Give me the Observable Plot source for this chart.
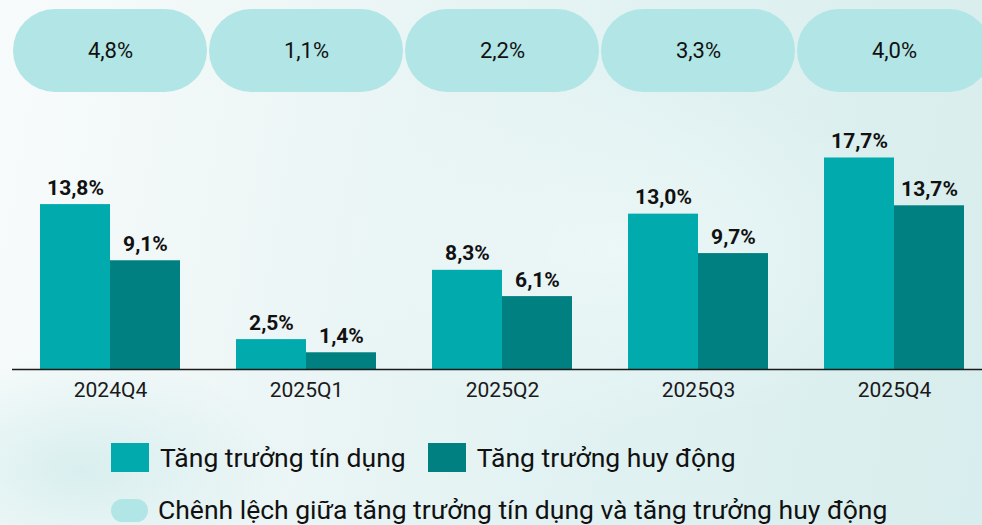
<!DOCTYPE html>
<html>
<head>
<meta charset="utf-8">
<script src="https://cdn.jsdelivr.net/npm/d3@7"></script>
<script src="https://cdn.jsdelivr.net/npm/@observablehq/plot@0.6"></script>
<style>
  html, body { margin: 0; padding: 0; }
  body {
    width: 982px; height: 525px; overflow: hidden;
    font-family: Roboto, "Noto Sans", sans-serif;
    color: #111;
    background:
      radial-gradient(ellipse 420px 260px at 620px 250px, rgba(240,249,249,0.7), rgba(240,249,249,0) 70%),
      radial-gradient(ellipse 300px 160px at 80px 470px, rgba(200,232,232,0.6), rgba(200,232,232,0) 70%),
      linear-gradient(100deg, #f8fbfb 0%, #edf6f6 30%, #e0f1f1 65%, #d8eded 100%);
  }
  #pills, #bars { display: block; }
  .legend { position: relative; height: 107px; }
  .row { position: absolute; left: 111px; display: flex; align-items: center; font-size: 26.5px; white-space: nowrap; }
  .row1 { top: 25px; line-height: 29px; }
  .row2 { top: 80px; line-height: 24px; height: 24px; }
  .sw { width: 38px; height: 29px; margin-right: 11px; flex: none; }
  .pill { width: 37px; height: 23px; border-radius: 12px; margin-right: 10px; flex: none; }
  .gapItem { margin-right: 22px; }
</style>
</head>
<body>
<div id="pills"></div>
<div id="bars"></div>
<div class="legend">
  <div class="row row1" id="legend1"></div>
  <div class="row row2" id="legend2"></div>
</div>
<script>
const quarters = ["2024Q4", "2025Q1", "2025Q2", "2025Q3", "2025Q4"];
const credit = [13.8, 2.5, 8.3, 13.0, 17.7];
const deposit = [9.1, 1.4, 6.1, 9.7, 13.7];
const gap = [4.8, 1.1, 2.2, 3.3, 4.0];
const seriesNames = ["Tăng trưởng tín dụng", "Tăng trưởng huy động"];
const gapName = "Chênh lệch giữa tăng trưởng tín dụng và tăng trưởng huy động";
const colors = ["#00aaad", "#008080"];
const pillColor = "#b2e5e5";

const data = quarters.map((q, i) => ({quarter: q, credit: credit[i], deposit: deposit[i], gap: gap[i]}));
const fmt = v => v.toFixed(1).replace(".", ",") + "%";

const pills = Plot.plot({
  width: 982, height: 93,
  marginTop: 8, marginBottom: 0, marginLeft: 12, marginRight: 0,
  style: {background: "transparent", fontFamily: "Roboto", color: "#1a1a1a"},
  x: {domain: quarters, range: [12, 992], padding: 0, axis: null},
  marks: [
    Plot.cell(data, {x: "quarter", fill: pillColor, rx: 42, inset: 1}),
    Plot.text(data, {x: "quarter", text: d => fmt(d.gap), fontSize: 22, fill: "#111"})
  ]
});
document.getElementById("pills").appendChild(pills);

const bars = Plot.plot({
  width: 982, height: 325,
  marginTop: 37, marginBottom: 49, marginLeft: 12, marginRight: 0,
  style: {background: "transparent", fontFamily: "Roboto", color: "#1a1a1a"},
  x: {domain: quarters, range: [12, 992], paddingInner: 2/7, paddingOuter: 1/7, label: null, axis: null},
  y: {domain: [0, 20], axis: null},
  marks: [
    Plot.barY(data, {x: "quarter", y: "credit", fill: colors[0], insetRight: 70}),
    Plot.barY(data, {x: "quarter", y: "deposit", fill: colors[1], insetLeft: 70}),
    Plot.text(data, {x: "quarter", y: "credit", text: d => fmt(d.credit), dx: -35, dy: -10, lineAnchor: "bottom", fontWeight: "bold", fontSize: 21, fill: "#111"}),
    Plot.text(data, {x: "quarter", y: "deposit", text: d => fmt(d.deposit), dx: 35, dy: -10, lineAnchor: "bottom", fontWeight: "bold", fontSize: 21, fill: "#111"}),
    Plot.ruleY([0], {stroke: "#1a1a1a", strokeWidth: 1.6}),
    Plot.axisX({tickSize: 0, tickPadding: 13, fontSize: 21, label: null})
  ]
});
document.getElementById("bars").appendChild(bars);

const l1 = document.getElementById("legend1");
seriesNames.forEach((name, i) => {
  const sw = document.createElement("span");
  sw.className = "sw";
  sw.style.background = colors[i];
  const t = document.createElement("span");
  t.textContent = name;
  if (i === 0) t.className = "gapItem";
  l1.appendChild(sw);
  l1.appendChild(t);
});
const l2 = document.getElementById("legend2");
const p = document.createElement("span");
p.className = "pill";
p.style.background = pillColor;
const t2 = document.createElement("span");
t2.textContent = gapName;
l2.appendChild(p);
l2.appendChild(t2);
</script>
</body>
</html>
